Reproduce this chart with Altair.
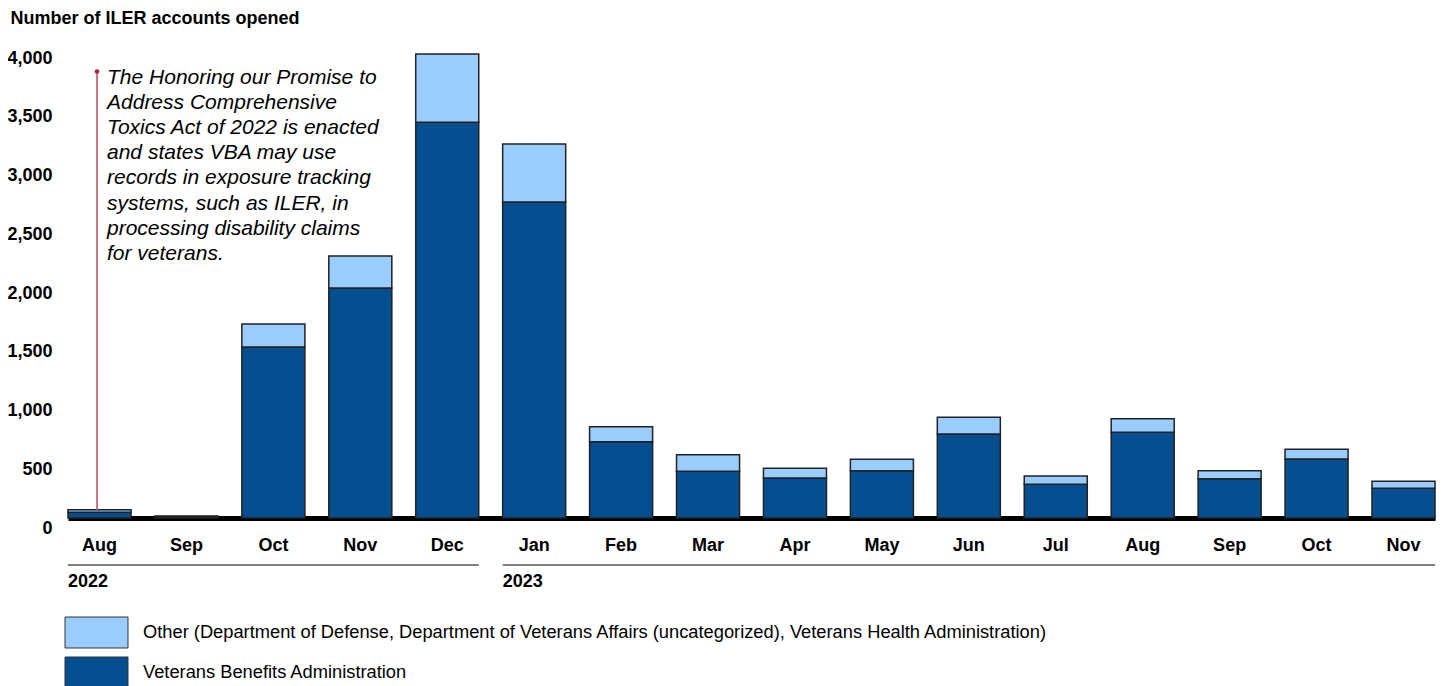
import altair as alt
import pandas as pd

FONT = "Liberation Sans"

months = ["Aug", "Sep", "Oct", "Nov", "Dec", "Jan", "Feb", "Mar", "Apr", "May",
          "Jun", "Jul", "Aug", "Sep", "Oct", "Nov"]
years = ["2022"] * 5 + ["2023"] * 11
vba = [50, 12, 1455, 1957, 3368, 2689, 649, 397, 340, 403, 715, 287, 729, 334, 502, 253]
other = [20, 5, 196, 273, 581, 494, 128, 142, 83, 97, 142, 70, 116, 69, 83, 59]

OTHER_LABEL = ("Other (Department of Defense, Department of Veterans Affairs "
               "(uncategorized), Veterans Health Administration)")
VBA_LABEL = "Veterans Benefits Administration"
series_order = [OTHER_LABEL, VBA_LABEL]
series_colors = ["#99ccff", "#054f91"]

cats = [f"{m} {y}" for m, y in zip(months, years)]

rows = []
for c, v, o in zip(cats, vba, other):
    rows.append({"cat": c, "series": VBA_LABEL, "value": v, "ord": 0})
    rows.append({"cat": c, "series": OTHER_LABEL, "value": o, "ord": 1})
df = pd.DataFrame(rows)

ann_text = ("The Honoring our Promise to\nAddress Comprehensive\nToxics Act of 2022 is enacted\n"
            "and states VBA may use\nrecords in exposure tracking\nsystems, such as ILER, in\n"
            "processing disability claims\nfor veterans.")
ann_df = pd.DataFrame({"cat": ["Aug 2022"], "top": [3800], "bottom": [vba[0] + other[0]],
                       "text": [ann_text]})

group_df = pd.DataFrame({"start": ["Aug 2022", "Jan 2023"], "end": ["Dec 2022", "Nov 2023"],
                         "year": ["2022", "2023"]})

legend_df = pd.DataFrame({"series": series_order})

xscale = alt.Scale(domain=cats, paddingInner=0.275, paddingOuter=0)
yscale = alt.Scale(domain=[0, 4000], nice=False)
cscale = alt.Scale(domain=series_order, range=series_colors)

bars = alt.Chart(df).mark_bar(stroke="#222222", strokeWidth=1.5).encode(
    x=alt.X("cat:N", scale=xscale, sort=cats, title=None,
            axis=alt.Axis(labelExpr="split(datum.label, ' ')[0]", labelAngle=0,
                          labelFont=FONT, labelFontSize=18, labelFontWeight="bold",
                          labelColor="black", labelPadding=18, ticks=False,
                          domainColor="black", domainWidth=5)),
    y=alt.Y("value:Q", stack="zero", scale=yscale, title="Number of ILER accounts opened",
            axis=alt.Axis(values=list(range(0, 4001, 500)), format=",.0f", grid=False,
                          domain=False, ticks=False, labelFont=FONT, labelFontSize=18,
                          labelFontWeight="bold", labelColor="black", labelPadding=16,
                          labelOffset=10,
                          titleAngle=0, titleX=-58, titleY=-30, titleAlign="left",
                          titleBaseline="middle", titleFont=FONT, titleFontSize=18,
                          titleFontWeight="bold", titleColor="black")),
    color=alt.Color("series:N", scale=cscale, legend=None),
    order=alt.Order("ord:Q"),
)

rule = alt.Chart(ann_df).mark_rule(color="#c9687a", strokeWidth=1.8, xOffset=-2.5).encode(
    x=alt.X("cat:N"), y=alt.Y("top:Q"), y2="bottom:Q")
dot = alt.Chart(ann_df).mark_point(filled=True, size=22, color="#b0223f", opacity=1,
                                   xOffset=-2.5).encode(
    x=alt.X("cat:N"), y=alt.Y("top:Q"))
label = alt.Chart(ann_df).mark_text(align="left", baseline="top", dx=7.5, dy=-5,
                                    fontStyle="italic", fontSize=21, lineHeight=25.2,
                                    font=FONT, color="black", lineBreak="\n").encode(
    x=alt.X("cat:N"), y=alt.Y("top:Q"), text="text:N")

glines = alt.Chart(group_df).mark_rule(color="black", strokeWidth=1.2).encode(
    x=alt.X("start:N", bandPosition=0), x2=alt.X2("end:N", bandPosition=1),
    y=alt.value(517))
gtext = alt.Chart(group_df).mark_text(align="left", baseline="middle", font=FONT,
                                      fontSize=18, fontWeight="bold", color="black").encode(
    x=alt.X("start:N", bandPosition=0), y=alt.value(534), text="year:N")

legend_layers = []
for i, s in enumerate(series_order):
    base = alt.Chart(legend_df).transform_filter(alt.datum.series == s)
    top = 569 + 40 * i
    legend_layers.append(base.mark_rect(stroke="#333333", strokeWidth=1).encode(
        x=alt.value(-3), x2=alt.value(60), y=alt.value(top), y2=alt.value(top + 31),
        color=alt.Color("series:N", scale=cscale, legend=None)))
    legend_layers.append(base.mark_text(align="left", baseline="middle", font=FONT,
                                        fontSize=18.3, color="black").encode(
        x=alt.value(75), y=alt.value(top + 16), text="series:N"))

chart = alt.layer(bars, rule, dot, label, glines, gtext, *legend_layers).properties(
    width=1367, height=470,
    autosize=alt.AutoSizeParams(type="none"),
    padding={"left": 60, "top": 40, "right": 2, "bottom": 170},
).configure_view(stroke=None)

chart.save("out.html", embed_options={"renderer": "svg", "actions": False})
